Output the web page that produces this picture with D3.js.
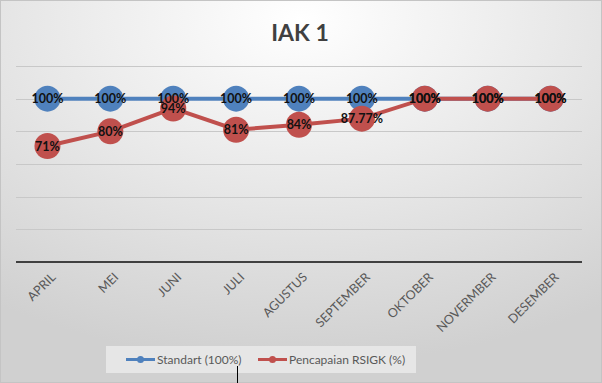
<!DOCTYPE html>
<html><head><meta charset="utf-8">
<script src="https://cdn.jsdelivr.net/npm/d3@7"></script>
<style>html,body{margin:0;padding:0;background:#fff}svg{display:block}</style>
</head><body>
<svg id="c" width="602" height="383"></svg>
<script>
const categories = ["APRIL","MEI","JUNI","JULI","AGUSTUS","SEPTEMBER","OKTOBER","NOVERMBER","DESEMBER"];
const standart = [100,100,100,100,100,100,100,100,100];
const pencapaian = [71,80,94,81,84,87.77,100,100,100];
const pencapaianLabels = ["71%","80%","94%","81%","84%","87.77%","100%","100%","100%"];
const standartLabels = ["100%","100%","100%","100%","100%","100%","100%","100%","100%"];
const yTicks = [0,20,40,60,80,100,120];
const seriesNames = ["Standart (100%)","Pencapaian RSIGK (%)"];
const colors = ["#4F81BD","#C0504D"];

(function(){
const svg = d3.select("#c");
const W = 602, H = 383;
const defs = svg.append("defs");
const rg = defs.append("radialGradient").attr("id","bg").attr("cx","50%").attr("cy","5%").attr("r","90%")
  .attr("gradientUnits","objectBoundingBox");
rg.append("stop").attr("offset","0%").attr("stop-color","#ffffff");
rg.append("stop").attr("offset","100%").attr("stop-color","#d0d0d0");
svg.append("rect").attr("x",0).attr("y",0).attr("width",W).attr("height",H).attr("fill","url(#bg)");
svg.append("rect").attr("x",0.5).attr("y",0.5).attr("width",W-1).attr("height",H-1).attr("fill","none").attr("stroke","#c4c4c4");

const font = "Lato, 'Open Sans', sans-serif";
svg.append("text").attr("x",300).attr("y",41).attr("text-anchor","middle")
  .attr("font-family",font).attr("font-weight","bold").attr("font-size",23).attr("fill","#404040").text("IAK 1");

const pl = 16, pr = 582, pt = 66, pb = 262;
const x = d3.scaleBand().domain(categories).range([pl,pr]);
const y = d3.scaleLinear().domain([0,120]).range([pb,pt]);

svg.append("g").selectAll("line").data(yTicks.filter(t=>t>0)).join("line")
  .attr("x1",pl).attr("x2",pr).attr("y1",d=>Math.round(y(d))+0.5).attr("y2",d=>Math.round(y(d))+0.5)
  .attr("stroke","#c8c8c8").attr("stroke-width",1.2);

const xAxis = svg.append("g").attr("transform",`translate(0,${pb})`).call(d3.axisBottom(x).tickSize(0).tickPadding(0));
xAxis.select(".domain").attr("stroke","#404040").attr("stroke-width",2.2).attr("d",`M${pl},0H${pr}`);
xAxis.selectAll("text").attr("font-family",font).attr("font-size",12.5).attr("fill","#595959")
  .attr("text-anchor","end").attr("dy",0).attr("y",0)
  .attr("transform","translate(9,16) rotate(-45)");

const cx = d => x(d) + x.bandwidth()/2;
const line = d3.line().x((d,i)=>cx(categories[i])).y(d=>y(d));
const series = [standart, pencapaian];
const labels = [standartLabels, pencapaianLabels];
series.forEach((s,k)=>{
  const g = svg.append("g");
  g.append("path").attr("d",line(s)).attr("fill","none").attr("stroke",colors[k]).attr("stroke-width",4);
  g.selectAll("circle").data(s).join("circle").attr("cx",(d,i)=>cx(categories[i])).attr("cy",d=>y(d))
    .attr("r",13).attr("fill",colors[k]);
});
series.forEach((s,k)=>{
  svg.append("g").selectAll("text").data(s).join("text")
    .attr("x",(d,i)=>cx(categories[i])).attr("y",d=>y(d)).attr("dy","0.36em")
    .attr("text-anchor","middle").attr("font-family",font).attr("font-weight","bold").attr("font-size",12.5)
    .attr("fill","#111").text((d,i)=>labels[k][i]);
});

const lg = svg.append("g");
lg.append("rect").attr("x",106).attr("y",346).attr("width",310).attr("height",27).attr("fill","#e6e6e6");
const lx = [126, 258];
seriesNames.forEach((n,k)=>{
  lg.append("line").attr("x1",lx[k]).attr("x2",lx[k]+29).attr("y1",359.5).attr("y2",359.5).attr("stroke",colors[k]).attr("stroke-width",3);
  lg.append("circle").attr("cx",lx[k]+14.5).attr("cy",359.5).attr("r",3.5).attr("fill",colors[k]);
  lg.append("text").attr("x",lx[k]+31).attr("y",359.5).attr("dy","0.35em").attr("font-family",font).attr("font-size",12)
    .attr("fill","#595959").text(n);
});
svg.append("line").attr("x1",237.5).attr("x2",237.5).attr("y1",366).attr("y2",383).attr("stroke","#000").attr("stroke-width",1);
})();
</script>
</body></html>
